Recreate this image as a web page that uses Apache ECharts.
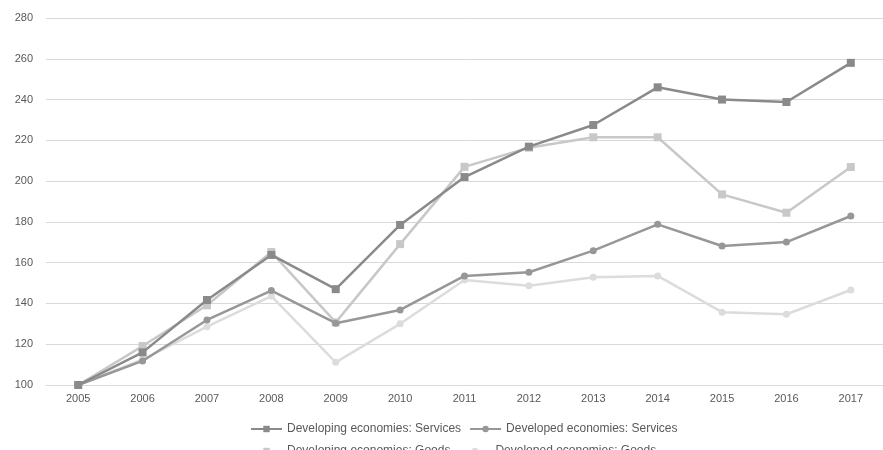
<!DOCTYPE html>
<html>
<head>
<meta charset="utf-8">
<script src="https://cdn.jsdelivr.net/npm/echarts@6/dist/echarts.min.js"></script>
<style>html,body{margin:0;padding:0;background:#fff;}#c{width:883px;height:450px;}</style>
</head>
<body>
<div id="c"></div>
<script>
const years = ['2005','2006','2007','2008','2009','2010','2011','2012','2013','2014','2015','2016','2017'];
const developingServices = [100,116,141.7,163.8,147,178.5,202,216.9,227.5,246,240,238.8,258];
const developedServices  = [100,111.8,131.9,146.3,130.3,136.8,153.5,155.3,165.9,178.8,168.2,170.1,182.9];
const developingGoods    = [100,119.1,139.1,165.2,130.7,169.1,207,216.4,221.5,221.5,193.5,184.5,206.9];
const developedGoods     = [100,112.5,128.6,143.6,111.1,130,151.5,148.7,152.8,153.5,135.7,134.7,146.6];
const names = ['Developing economies: Services','Developed economies: Services','Developing economies: Goods','Developed economies: Goods'];

const chart = echarts.init(document.getElementById('c'), null, {renderer:'canvas'});
const font = 'Liberation Sans, Arial, sans-serif';
function mk(name, data, color, symbol, size, z){
  return {name, type:'line', data, symbol, symbolSize:size, z,
    lineStyle:{color, width:2.5}, itemStyle:{color}, animation:false};
}
const legendBase = {itemWidth:31, itemHeight:8, itemGap:8,
  textStyle:{color:'#595959', fontSize:12, fontFamily:font}, orient:'horizontal'};
chart.setOption({
  backgroundColor:'#fff',
  animation:false,
  grid:{left:46, top:18, width:845, height:367},
  legend:[
    Object.assign({}, legendBase, {left:245, top:418, data:[names[0], names[1]]}),
    Object.assign({}, legendBase, {left:245, top:440, data:[names[2], names[3]]})
  ],
  xAxis:{type:'category', data:years, boundaryGap:true,
    axisLine:{lineStyle:{color:'#d9d9d9'}}, axisTick:{show:false},
    axisLabel:{color:'#595959', fontSize:11, fontFamily:font, margin:8}},
  yAxis:{type:'value', min:100, max:280, interval:20,
    axisLine:{show:false}, axisTick:{show:false},
    splitLine:{lineStyle:{color:'#d9d9d9', width:1}},
    axisLabel:{color:'#595959', fontSize:11, fontFamily:font, margin:13}},
  series:[
    mk(names[3], developedGoods, '#dcdcdc', 'circle', 7, 1),
    mk(names[2], developingGoods, '#c8c8c8', 'rect', 8, 2),
    mk(names[1], developedServices, '#979797', 'circle', 7, 3),
    mk(names[0], developingServices, '#8a8a8a', 'rect', 8, 4)
  ]
});
</script>
</body>
</html>
